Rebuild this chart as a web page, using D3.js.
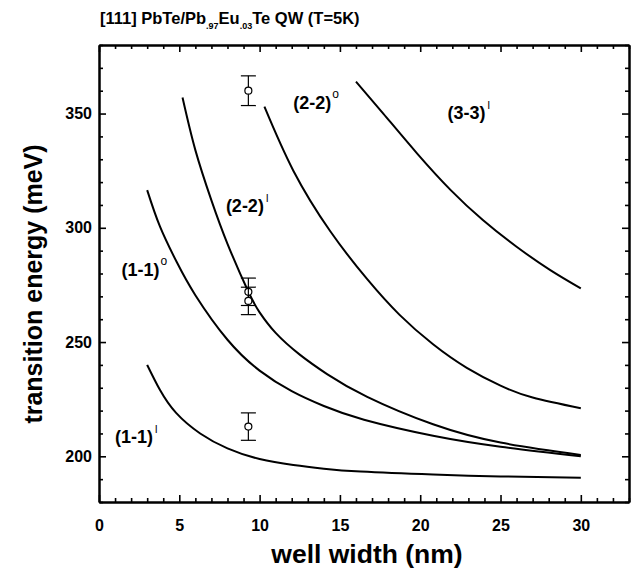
<!DOCTYPE html>
<html>
<head>
<meta charset="utf-8">
<script src="https://cdn.jsdelivr.net/npm/d3@7"></script>
<style>
  body { margin: 0; background: #fff; }
  svg { font-family: "Liberation Sans", Arial, sans-serif; }
</style>
</head>
<body>
<svg id="chart" width="634" height="575"></svg>
<script>
// curves: [well width (nm), transition energy (meV)]
const curve11l = [[3,240],[3.8,229],[4.8,219],[6.3,210],[8,203.5],[10,198.8],[12.1,196.2],[14,194.6],[16.3,193.3],[20.8,192],[25,191.2],[30,190.6]];
const curve11o = [[3,316.5],[3.8,300.5],[4.84,285],[6,270.5],[8,251],[10,237.5],[12,228.5],[14,222],[16.5,216],[20.8,209],[25,204.2],[30,200]];
const curve22l = [[5.2,357],[6,334],[7,312],[8,293],[9.3,272],[10,263],[11,254],[12.5,244.5],[14.2,236],[16.7,226],[20.8,214],[25,206],[30,200.6]];
const curve22o = [[10.3,353],[12.1,325],[14.4,298.5],[16.7,277.5],[18.7,262],[20.8,249],[22.9,238.7],[25,230.9],[27,225.7],[30,221]];
const curve33l = [[16,364],[17.7,350],[19.8,332.6],[21.9,316.5],[23.9,303.4],[26,291.7],[28.1,281.5],[30,273.5]];

// measured points with error bars
const ptWidth = [9.3, 9.3, 9.3, 9.3];
const ptEnergy = [360, 272, 268, 213];
const ptErr = [6.5, 6, 6, 6];

// curve labels: base text, superscript, position in data units
const labelText = ["(1-1)", "(1-1)", "(2-2)", "(2-2)", "(3-3)"];
const labelSup = ["l", "o", "l", "o", "l"];
const labelX = [1.0, 1.4, 7.9, 12.1, 21.7];
const labelY = [206, 279, 307, 352, 347.5];

const xTicks = [0, 5, 10, 15, 20, 25, 30];
const yTicks = [200, 250, 300, 350];

const svg = d3.select("#chart");
const mLeft = 99, mRight = 629, mTop = 45, mBottom = 502;

const x = d3.scaleLinear().domain([0, 33]).range([mLeft, mRight]);
const y = d3.scaleLinear().domain([180, 380]).range([mBottom, mTop]);

// title
const title = svg.append("text")
    .attr("x", 100).attr("y", 24)
    .attr("font-size", 16.5).attr("font-weight", "bold");
title.append("tspan").text("[111] PbTe/Pb");
title.append("tspan").attr("font-size", 9).attr("dy", 5).text(".97");
title.append("tspan").attr("dy", -5).text("Eu");
title.append("tspan").attr("font-size", 9).attr("dy", 5).text(".03");
title.append("tspan").attr("dy", -5).text("Te QW (T=5K)");

// minor ticks
const minorX = d3.range(0, 34, 1).filter(v => v % 5 !== 0);
const minorY = d3.range(180, 381, 10).filter(v => v % 50 !== 0);

function styleAxis(g) {
  g.select(".domain").attr("stroke-width", 2);
  g.selectAll(".tick line").attr("stroke-width", 1.6);
  g.selectAll("text").attr("font-size", 16).attr("font-weight", "bold").attr("fill", "#000");
}

svg.append("g").attr("transform", `translate(0,${mBottom})`)
  .call(d3.axisBottom(x).tickValues(xTicks).tickSize(-7).tickSizeOuter(0).tickPadding(18))
  .call(styleAxis);
svg.append("g").attr("transform", `translate(0,${mBottom})`)
  .call(d3.axisBottom(x).tickValues(minorX).tickSize(-4).tickSizeOuter(0).tickFormat(""))
  .call(styleAxis);
svg.append("g").attr("transform", `translate(0,${mTop})`)
  .call(d3.axisTop(x).tickValues(xTicks).tickSize(-7).tickSizeOuter(0).tickFormat(""))
  .call(styleAxis);
svg.append("g").attr("transform", `translate(0,${mTop})`)
  .call(d3.axisTop(x).tickValues(minorX).tickSize(-4).tickSizeOuter(0).tickFormat(""))
  .call(styleAxis);
svg.append("g").attr("transform", `translate(${mLeft},0)`)
  .call(d3.axisLeft(y).tickValues(yTicks).tickSize(-7).tickSizeOuter(0).tickPadding(7))
  .call(styleAxis);
svg.append("g").attr("transform", `translate(${mLeft},0)`)
  .call(d3.axisLeft(y).tickValues(minorY).tickSize(-4).tickSizeOuter(0).tickFormat(""))
  .call(styleAxis);
svg.append("g").attr("transform", `translate(${mRight},0)`)
  .call(d3.axisRight(y).tickValues(yTicks).tickSize(-7).tickSizeOuter(0).tickFormat(""))
  .call(styleAxis);
svg.append("g").attr("transform", `translate(${mRight},0)`)
  .call(d3.axisRight(y).tickValues(minorY).tickSize(-4).tickSizeOuter(0).tickFormat(""))
  .call(styleAxis);

// axis titles
svg.append("text")
    .attr("x", 367).attr("y", 563)
    .attr("text-anchor", "middle")
    .attr("font-size", 26.5).attr("font-weight", "bold")
    .text("well width (nm)");
svg.append("text")
    .attr("transform", "translate(42,284) rotate(-90)")
    .attr("text-anchor", "middle")
    .attr("font-size", 25).attr("font-weight", "bold")
    .text("transition energy (meV)");

// theory curves
const line = d3.line()
    .x(d => x(d[0]))
    .y(d => y(d[1]))
    .curve(d3.curveNatural);

svg.append("g")
    .attr("fill", "none")
    .attr("stroke", "#000")
    .attr("stroke-width", 2)
  .selectAll("path")
  .data([curve11l, curve11o, curve22l, curve22o, curve33l])
  .join("path")
    .attr("d", line);

// data points
const pts = svg.append("g").attr("stroke", "#000").attr("stroke-width", 1.2);
ptWidth.forEach((w, i) => {
  const cx = x(w);
  pts.append("line").attr("x1", cx).attr("x2", cx)
    .attr("y1", y(ptEnergy[i] - ptErr[i])).attr("y2", y(ptEnergy[i] + ptErr[i]));
  [ptEnergy[i] - ptErr[i], ptEnergy[i] + ptErr[i]].forEach(e => {
    pts.append("line").attr("x1", cx - 7.5).attr("x2", cx + 7.5)
      .attr("y1", y(e)).attr("y2", y(e));
  });
  pts.append("circle").attr("cx", cx).attr("cy", y(ptEnergy[i])).attr("r", 3.5)
    .attr("fill", "#fff");
});

// curve labels
svg.append("g")
    .attr("font-size", 18).attr("font-weight", "bold")
  .selectAll("text")
  .data(labelText)
  .join("text")
    .attr("x", (d, i) => x(labelX[i]))
    .attr("y", (d, i) => y(labelY[i]))
    .each(function(d, i) {
      const t = d3.select(this);
      t.append("tspan").text(d);
      if (labelSup[i] === "o") {
        t.append("tspan").attr("dy", -11).attr("dx", 1).attr("font-size", 12).attr("font-weight", "normal").text("o");
      } else {
        t.append("tspan").attr("dy", -10).attr("dx", 2).attr("font-size", 11).attr("font-weight", "normal").text("l");
      }
    });
</script>
</body>
</html>
